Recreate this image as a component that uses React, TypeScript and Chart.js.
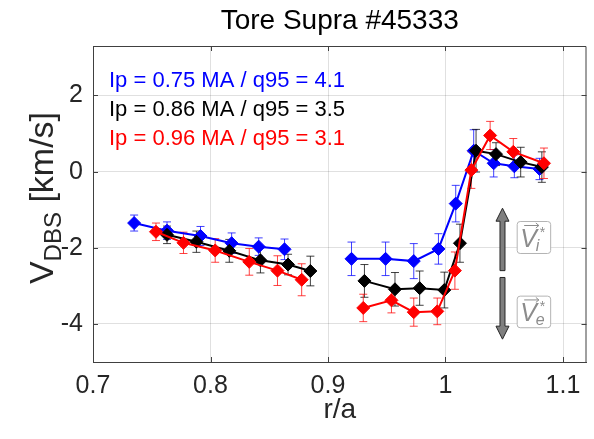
import React, { useEffect, useRef } from "react";
import { Chart, registerables } from "chart.js";
Chart.register(...registerables);

const TITLE = "Tore Supra #45333";
const X_LABEL = "r/a";
const X_TICKS = [0.7, 0.8, 0.9, 1.0, 1.1];
const X_TICK_LABELS = ["0.7", "0.8", "0.9", "1", "1.1"];
const Y_TICKS = [-4, -2, 0, 2];
const Y_TICK_LABELS = ["-4", "-2", "0", "2"];

const SERIES_LABELS = [
  "Ip = 0.75 MA / q95 = 4.1",
  "Ip = 0.86 MA / q95 = 3.5",
  "Ip = 0.96 MA / q95 = 3.1",
];
const SERIES_COLORS = ["#0000ff", "#000000", "#ff0000"];

// Ip = 0.75 MA
const RA_075 = [0.735, 0.763, 0.7915, 0.818, 0.841, 0.863, 0.92, 0.949, 0.973, 0.994, 1.0087, 1.024, 1.041, 1.0586, 1.08];
const V_075 = [-1.35, -1.55, -1.69, -1.88, -1.97, -2.04, -2.29, -2.29, -2.35, -2.03, -0.84, 0.55, 0.22, 0.14, 0.07];
const E_075 = [0.21, 0.23, 0.25, 0.27, 0.23, 0.27, 0.44, 0.44, 0.46, 0.4, 0.48, 0.55, 0.36, 0.3, 0.28];

// Ip = 0.86 MA
const RA_086 = [0.763, 0.788, 0.816, 0.8425, 0.866, 0.885, 0.931, 0.957, 0.978, 0.999, 1.0123, 1.026, 1.043, 1.064, 1.082];
const V_086 = [-1.66, -1.84, -2.08, -2.33, -2.44, -2.61, -2.87, -3.09, -3.06, -3.11, -1.88, 0.55, 0.46, 0.25, 0.12];
const E_086 = [0.23, 0.28, 0.3, 0.33, 0.27, 0.39, 0.43, 0.44, 0.45, 0.47, 0.5, 0.56, 0.3, 0.39, 0.4];

// Ip = 0.96 MA
const RA_096 = [0.7536, 0.777, 0.804, 0.833, 0.857, 0.8776, 0.93, 0.954, 0.973, 0.993, 1.008, 1.022, 1.038, 1.0577, 1.0838];
const V_096 = [-1.58, -1.87, -2.07, -2.37, -2.6, -2.84, -3.58, -3.38, -3.69, -3.67, -2.6, 0.04, 0.95, 0.52, 0.22];
const E_096 = [0.23, 0.28, 0.31, 0.35, 0.39, 0.42, 0.36, 0.33, 0.37, 0.35, 0.49, 0.48, 0.37, 0.35, 0.4];

// annotation (data coordinates)
const ARROW_X = 1.0485;
const UP_ARROW = [-2.6, -0.96];
const DOWN_ARROW = [-2.78, -4.4];
const BOX_X = [1.061, 1.0895];
const BOX_I = [-1.31, -2.15];
const BOX_E = [-3.27, -4.1];

const FONT = '"Liberation Sans", Arial, Helvetica, sans-serif';

function withGaps(xs: number[], ys: number[], es: number[]) {
  const pts: any[] = [];
  const errs: (number | null)[] = [];
  for (let i = 0; i < xs.length; i++) {
    if (i > 0 && xs[i] - xs[i - 1] > 0.04) {
      pts.push({ x: (xs[i] + xs[i - 1]) / 2, y: null });
      errs.push(null);
    }
    pts.push({ x: xs[i], y: ys[i] });
    errs.push(es[i]);
  }
  return { pts, errs };
}

const decorPlugin = {
  id: "decor",
  beforeDatasetsDraw(chart: any) {
    const ctx = chart.ctx;
    const xs = chart.scales.x;
    const ys = chart.scales.y;
    ctx.save();
    chart.data.datasets.forEach((ds: any) => {
      ctx.strokeStyle = ds.borderColor;
      ctx.globalAlpha = 0.75;
      ctx.lineWidth = 1;
      ds.data.forEach((p: any, j: number) => {
        const e = ds.errors[j];
        if (p.y == null || e == null) return;
        const px = xs.getPixelForValue(p.x);
        const y1 = ys.getPixelForValue(p.y - e);
        const y2 = ys.getPixelForValue(p.y + e);
        ctx.beginPath();
        ctx.moveTo(px, y1);
        ctx.lineTo(px, y2);
        ctx.moveTo(px - 4, y1);
        ctx.lineTo(px + 4, y1);
        ctx.moveTo(px - 4, y2);
        ctx.lineTo(px + 4, y2);
        ctx.stroke();
      });
    });
    ctx.restore();
  },
  afterDatasetsDraw(chart: any) {
    const ctx = chart.ctx;
    const xs = chart.scales.x;
    const ys = chart.scales.y;
    const ax = xs.getPixelForValue(ARROW_X);
    const drawArrow = (yTail: number, yTip: number) => {
      const t = ys.getPixelForValue(yTail);
      const p = ys.getPixelForValue(yTip);
      const dir = p < t ? -1 : 1;
      const headL = 13, headW = 13, shaftW = 5;
      const hb = p - dir * headL;
      ctx.beginPath();
      ctx.moveTo(ax - shaftW / 2, t);
      ctx.lineTo(ax - shaftW / 2, hb);
      ctx.lineTo(ax - headW / 2, hb);
      ctx.lineTo(ax, p);
      ctx.lineTo(ax + headW / 2, hb);
      ctx.lineTo(ax + shaftW / 2, hb);
      ctx.lineTo(ax + shaftW / 2, t);
      ctx.closePath();
      ctx.fillStyle = "#7f7f7f";
      ctx.fill();
      ctx.strokeStyle = "#262626";
      ctx.lineWidth = 1;
      ctx.stroke();
    };
    ctx.save();
    drawArrow(UP_ARROW[0], UP_ARROW[1]);
    drawArrow(DOWN_ARROW[0], DOWN_ARROW[1]);

    const drawBox = (yr: number[], sub: string) => {
      const x1 = xs.getPixelForValue(BOX_X[0]);
      const x2 = xs.getPixelForValue(BOX_X[1]);
      const y1 = ys.getPixelForValue(yr[0]);
      const y2 = ys.getPixelForValue(yr[1]);
      ctx.beginPath();
      ctx.roundRect(x1, y1, x2 - x1, y2 - y1, 3);
      ctx.fillStyle = "#ffffff";
      ctx.fill();
      ctx.strokeStyle = "#b4b4b4";
      ctx.lineWidth = 1;
      ctx.stroke();
      const cy = (y1 + y2) / 2;
      ctx.fillStyle = "#8c8c8c";
      ctx.strokeStyle = "#8c8c8c";
      ctx.font = "italic 25px " + FONT;
      ctx.textBaseline = "alphabetic";
      ctx.textAlign = "left";
      const vx = x1 + 3;
      const wV = ctx.measureText("V").width;
      ctx.fillText("V", vx, cy + 9);
      ctx.font = "italic 16px " + FONT;
      ctx.fillText(sub, vx + wV - 1, cy + 13);
      ctx.font = "14px " + FONT;
      ctx.fillText("*", vx + wV + 3, cy - 1);
      const ay = cy - 12;
      ctx.lineWidth = 1;
      ctx.beginPath();
      ctx.moveTo(vx + 4, ay);
      ctx.lineTo(vx + wV + 2, ay);
      ctx.moveTo(vx + wV - 1, ay - 2.5);
      ctx.lineTo(vx + wV + 2, ay);
      ctx.lineTo(vx + wV - 1, ay + 2.5);
      ctx.stroke();
    };
    drawBox(BOX_I, "i");
    drawBox(BOX_E, "e");
    ctx.restore();
  },
  afterDraw(chart: any) {
    const ctx = chart.ctx;
    const a = chart.chartArea;
    const xs = chart.scales.x;
    const ys = chart.scales.y;
    ctx.save();
    ctx.strokeStyle = "#404040";
    ctx.lineWidth = 1;
    ctx.beginPath();
    ctx.moveTo(a.left, a.top + 0.5);
    ctx.lineTo(a.right - 0.5, a.top + 0.5);
    ctx.lineTo(a.right - 0.5, a.bottom);
    ctx.stroke();
    ctx.beginPath();
    X_TICKS.forEach((v) => {
      const px = Math.round(xs.getPixelForValue(v)) + 0.5;
      ctx.moveTo(px, a.bottom);
      ctx.lineTo(px, a.bottom - 5);
      ctx.moveTo(px, a.top);
      ctx.lineTo(px, a.top + 5);
    });
    Y_TICKS.forEach((v) => {
      const py = Math.round(ys.getPixelForValue(v)) + 0.5;
      ctx.moveTo(a.left, py);
      ctx.lineTo(a.left + 5, py);
      ctx.moveTo(a.right, py);
      ctx.lineTo(a.right - 5, py);
    });
    ctx.stroke();

    ctx.font = "22px " + FONT;
    ctx.textAlign = "left";
    ctx.textBaseline = "middle";
    SERIES_LABELS.forEach((lab, i) => {
      ctx.fillStyle = SERIES_COLORS[i];
      ctx.fillText(lab, a.left + 16, a.top + 35 + i * 29);
    });

    // y axis title with subscript
    ctx.fillStyle = "#262626";
    ctx.translate(41, 198);
    ctx.rotate(-Math.PI / 2);
    const big = "34px " + FONT;
    const small = "24px " + FONT;
    ctx.font = big;
    const wV = ctx.measureText("V").width;
    const wK = ctx.measureText(" [km/s]").width;
    ctx.font = small;
    const wD = ctx.measureText("DBS").width;
    let x = -(wV + wD + wK) / 2;
    ctx.textBaseline = "alphabetic";
    ctx.font = big;
    ctx.fillText("V", x, 12);
    x += wV;
    ctx.font = small;
    ctx.fillText("DBS", x, 20);
    x += wD;
    ctx.font = big;
    ctx.fillText(" [km/s]", x, 12);
    ctx.restore();
  },
};

export default function App() {
  const ref = useRef<HTMLCanvasElement>(null);
  useEffect(() => {
    const series = [
      { xs: RA_075, ys: V_075, es: E_075 },
      { xs: RA_086, ys: V_086, es: E_086 },
      { xs: RA_096, ys: V_096, es: E_096 },
    ];
    const drawOrder = [2, 1, 0];
    const datasets = series.map((s, i) => {
      const { pts, errs } = withGaps(s.xs, s.ys, s.es);
      return {
        label: SERIES_LABELS[i],
        data: pts,
        errors: errs,
        borderColor: SERIES_COLORS[i],
        backgroundColor: SERIES_COLORS[i],
        borderWidth: 2,
        pointStyle: "rectRot",
        pointRadius: 6.5,
        pointBorderWidth: 1,
        spanGaps: false,
        tension: 0,
        order: drawOrder[i],
      } as any;
    });
    const tickFont = { family: FONT, size: 25 };
    const chart = new Chart(ref.current!, {
      type: "line",
      data: { datasets },
      plugins: [decorPlugin],
      options: {
        animation: false,
        responsive: false,
        devicePixelRatio: 1,
        layout: { padding: { left: 0, right: 2, top: 0, bottom: 0 } },
        plugins: {
          legend: { display: false },
          tooltip: { enabled: false },
          title: {
            display: true,
            text: TITLE,
            fullSize: false,
            color: "#000000",
            font: { family: FONT, size: 28, weight: "normal" },
            padding: { top: 4, bottom: 8.4 },
          },
        },
        scales: {
          x: {
            type: "linear",
            min: 0.7,
            max: 1.12,
            afterBuildTicks: (s: any) => {
              s.ticks = X_TICKS.map((v) => ({ value: v }));
            },
            afterFit: (s: any) => {
              s.height = 77;
            },
            grid: { color: "rgba(0,0,0,0.12)", drawTicks: false },
            border: { display: true, color: "#404040", width: 1 },
            ticks: {
              color: "#262626",
              font: tickFont,
              padding: 9,
              maxRotation: 0,
              callback: (_v: any, i: number) => X_TICK_LABELS[i],
            },
            title: {
              display: true,
              text: X_LABEL,
              color: "#262626",
              font: { family: FONT, size: 28 },
              padding: { top: 0, bottom: 12 },
            },
          },
          y: {
            type: "linear",
            min: -5,
            max: 3.3,
            afterBuildTicks: (s: any) => {
              s.ticks = Y_TICKS.map((v) => ({ value: v }));
            },
            afterFit: (s: any) => {
              s.width = 93;
            },
            grid: { color: "rgba(0,0,0,0.12)", drawTicks: false },
            border: { display: true, color: "#404040", width: 1 },
            ticks: {
              color: "#262626",
              font: tickFont,
              padding: 10,
              callback: (_v: any, i: number) => Y_TICK_LABELS[i],
            },
          },
        },
      } as any,
    });
    return () => chart.destroy();
  }, []);
  return (
    <div style={{ position: "absolute", left: 0, top: 0, width: 594, height: 439, background: "#fff" }}>
      <canvas ref={ref} width={594} height={439} style={{ display: "block" }} />
    </div>
  );
}
